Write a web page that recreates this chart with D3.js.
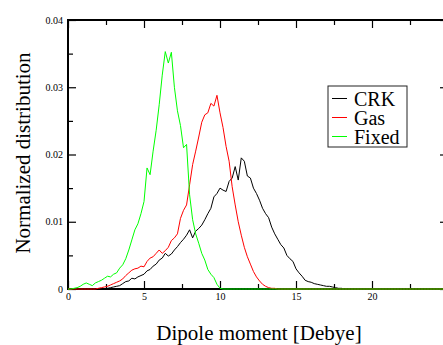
<!DOCTYPE html>
<html>
<head>
<meta charset="utf-8">
<script src="https://cdn.jsdelivr.net/npm/d3@7"></script>
<style>
  html, body { margin: 0; padding: 0; background: #fff; }
  svg { display: block; }
  text { font-family: "Liberation Serif", "Times New Roman", serif; }
</style>
</head>
<body>
<svg id="chart" width="443" height="345"></svg>
<script>
// Dipole moment bins [Debye], step 0.2 from 0 to 25
const dipole = d3.range(0, 25.001, 0.2);

const seriesNames = ["CRK", "Gas", "Fixed"];
const seriesColors = ["#000000", "#ff0000", "#00ff00"];

const crk = [
  0,0,0,0,0,0,0,0,0,0,
  0,0,0,0.0001,0.0002,0.0003,0.0004,0.0005,0.0008,0.0011,
  0.0012,0.0016,0.0015,0.0018,0.0020,0.0022,0.0027,0.0029,0.0034,0.0037,
  0.0043,0.0046,0.0053,0.0049,0.0052,0.0058,0.0063,0.0069,0.0074,0.0080,
  0.0088,0.0076,0.0086,0.0090,0.0095,0.0103,0.0112,0.0120,0.0137,0.0142,
  0.0150,0.0147,0.0145,0.0160,0.0165,0.0182,0.0162,0.0195,0.0190,0.0168,
  0.0165,0.0150,0.0142,0.0132,0.0120,0.0112,0.0106,0.0092,0.0082,0.0074,
  0.0066,0.0061,0.0050,0.0045,0.0041,0.0030,0.0024,0.0019,0.0013,0.0011,
  0.0010,0.0008,0.0007,0.0006,0.0005,0.0004,0.0004,0.0003,0.0002,0.0001,
  0.0001,0,0,0,0,0,0,0,0,0,
  0,0,0,0,0,0,0,0,0,0,
  0,0,0,0,0,0,0,0,0,0,
  0,0,0,0,0,0
];

const gas = [
  0,0,0,0,0,0,0,0,0,0,
  0.0001,0.0002,0.0003,0.0004,0.0006,0.0008,0.0010,0.0012,0.0015,0.0020,
  0.0024,0.0028,0.0030,0.0031,0.0034,0.0033,0.0041,0.0046,0.0048,0.0053,
  0.0058,0.0053,0.0057,0.0062,0.0072,0.0076,0.0082,0.0105,0.0117,0.0125,
  0.0155,0.0185,0.0205,0.0226,0.0248,0.0259,0.0262,0.0276,0.0272,0.0288,
  0.0262,0.0240,0.0212,0.0190,0.0152,0.0125,0.0100,0.0080,0.0062,0.0048,
  0.0037,0.0026,0.0018,0.0012,0.0007,0.0004,0.0002,0.0001,0.0001,0,
  0,0,0,0,0,0,0,0,0,0,
  0,0,0,0,0,0,0,0,0,0,
  0,0,0,0,0,0,0,0,0,0,
  0,0,0,0,0,0,0,0,0,0,
  0,0,0,0,0,0,0,0,0,0,
  0,0,0,0,0,0
];

const fixed = [
  0,0,0.0001,0.0002,0.0004,0.0007,0.0009,0.0007,0.0005,0.0009,
  0.0011,0.0013,0.0016,0.0019,0.0018,0.0022,0.0024,0.0031,0.0036,0.0045,
  0.0058,0.0073,0.0088,0.0097,0.0112,0.0130,0.0180,0.0170,0.0205,0.0236,
  0.0274,0.0318,0.0353,0.0336,0.0352,0.0300,0.0265,0.0243,0.0210,0.0215,
  0.0140,0.0103,0.0082,0.0068,0.0053,0.0043,0.0029,0.0022,0.0017,0.0007,
  0.0001,0,0,0,0,0,0,0,0,0,
  0,0,0,0,0,0,0,0,0,0,
  0,0,0,0,0,0,0,0,0,0,
  0,0,0,0,0,0,0,0,0,0,
  0,0,0,0,0,0,0,0,0,0,
  0,0,0,0,0,0,0,0,0,0,
  0,0,0,0,0,0,0,0,0,0,
  0,0,0,0,0,0
];

const xMajorTicks = [0, 5, 10, 15, 20, 25];
const xTickLabels = ["0", "5", "10", "15", "20", ""];
const xMinorTicks = [2.5, 7.5, 12.5, 17.5, 22.5];
const yMajorTicks = [0, 0.01, 0.02, 0.03, 0.04];
const yMinorTicks = [0.005, 0.015, 0.025, 0.035];
const yTickLabels = ["0", "0.01", "0.02", "0.03", "0.04"];

const xTitle = "Dipole moment [Debye]";
const yTitle = "Normalized distribution";

const FONT = '"Liberation Serif", "Times New Roman", serif';
const svg = d3.select("#chart");
const L = 68, R = 448, T = 20, B = 289;

const x = d3.scaleLinear().domain([0, 25]).range([L, R]);
const y = d3.scaleLinear().domain([0, 0.04]).range([B, T]);

const MAJ = 8, MIN = 5;

function styleAxis(g) {
  g.attr("font-family", FONT).attr("font-size", 10);
  g.selectAll("path.domain").remove();
  g.selectAll(".tick line").attr("stroke", "#000").attr("stroke-width", 1.2);
  g.selectAll(".tick text").attr("fill", "#000").attr("font-family", FONT)
    .style("font-size", "10px").style("font-family", FONT);
}

// bottom
svg.append("g").attr("transform", `translate(0,${B})`)
  .call(d3.axisBottom(x).tickValues(xMajorTicks).tickSizeInner(-MAJ).tickSizeOuter(0).tickPadding(4)
    .tickFormat((d, i) => xTickLabels[i]))
  .call(styleAxis);
svg.append("g").attr("transform", `translate(0,${B})`)
  .call(d3.axisBottom(x).tickValues(xMinorTicks).tickSizeInner(-MIN).tickSizeOuter(0).tickFormat(""))
  .call(styleAxis);
// top
svg.append("g").attr("transform", `translate(0,${T})`)
  .call(d3.axisTop(x).tickValues(xMajorTicks).tickSizeInner(-MAJ).tickSizeOuter(0).tickFormat(""))
  .call(styleAxis);
svg.append("g").attr("transform", `translate(0,${T})`)
  .call(d3.axisTop(x).tickValues(xMinorTicks).tickSizeInner(-MIN).tickSizeOuter(0).tickFormat(""))
  .call(styleAxis);
// left
svg.append("g").attr("transform", `translate(${L},0)`)
  .call(d3.axisLeft(y).tickValues(yMajorTicks).tickSizeInner(-MAJ).tickSizeOuter(0).tickPadding(5)
    .tickFormat((d, i) => yTickLabels[i]))
  .call(styleAxis);
svg.append("g").attr("transform", `translate(${L},0)`)
  .call(d3.axisLeft(y).tickValues(yMinorTicks).tickSizeInner(-MIN).tickSizeOuter(0).tickFormat(""))
  .call(styleAxis);
// right
svg.append("g").attr("transform", `translate(${R},0)`)
  .call(d3.axisRight(y).tickValues(yMajorTicks).tickSizeInner(-MAJ).tickSizeOuter(0).tickFormat(""))
  .call(styleAxis);
svg.append("g").attr("transform", `translate(${R},0)`)
  .call(d3.axisRight(y).tickValues(yMinorTicks).tickSizeInner(-MIN).tickSizeOuter(0).tickFormat(""))
  .call(styleAxis);

// frame
svg.append("rect").attr("x", L).attr("y", T).attr("width", R - L).attr("height", B - T)
  .attr("fill", "none").attr("stroke", "#000").attr("stroke-width", 2);

// curves
const line = d3.line().x((d, i) => x(dipole[i])).y(d => y(d));
[crk, gas, fixed].forEach((s, k) => {
  svg.append("path").datum(s).attr("d", line)
    .attr("fill", "none").attr("stroke", seriesColors[k]).attr("stroke-width", 1)
    .attr("stroke-linejoin", "round");
});

// titles
svg.append("text").attr("x", 259).attr("y", 340).attr("text-anchor", "middle")
  .style("font-size", "21px").attr("fill", "#000").text(xTitle);
svg.append("text").attr("transform", "translate(30,153) rotate(-90)").attr("text-anchor", "middle")
  .style("font-size", "21px").attr("fill", "#000").text(yTitle);

// legend
const lg = svg.append("g");
lg.append("rect").attr("x", 328).attr("y", 86).attr("width", 79).attr("height", 61)
  .attr("fill", "#fff").attr("stroke", "#222").attr("stroke-width", 1);
seriesNames.forEach((n, i) => {
  const cy = 98.5 + i * 19;
  lg.append("line").attr("x1", 332).attr("x2", 347).attr("y1", cy).attr("y2", cy)
    .attr("stroke", seriesColors[i]).attr("stroke-width", 1);
  lg.append("text").attr("x", 354).attr("y", cy + 7).style("font-size", "20px")
    .attr("fill", "#000").text(n);
});
</script>
</body>
</html>
